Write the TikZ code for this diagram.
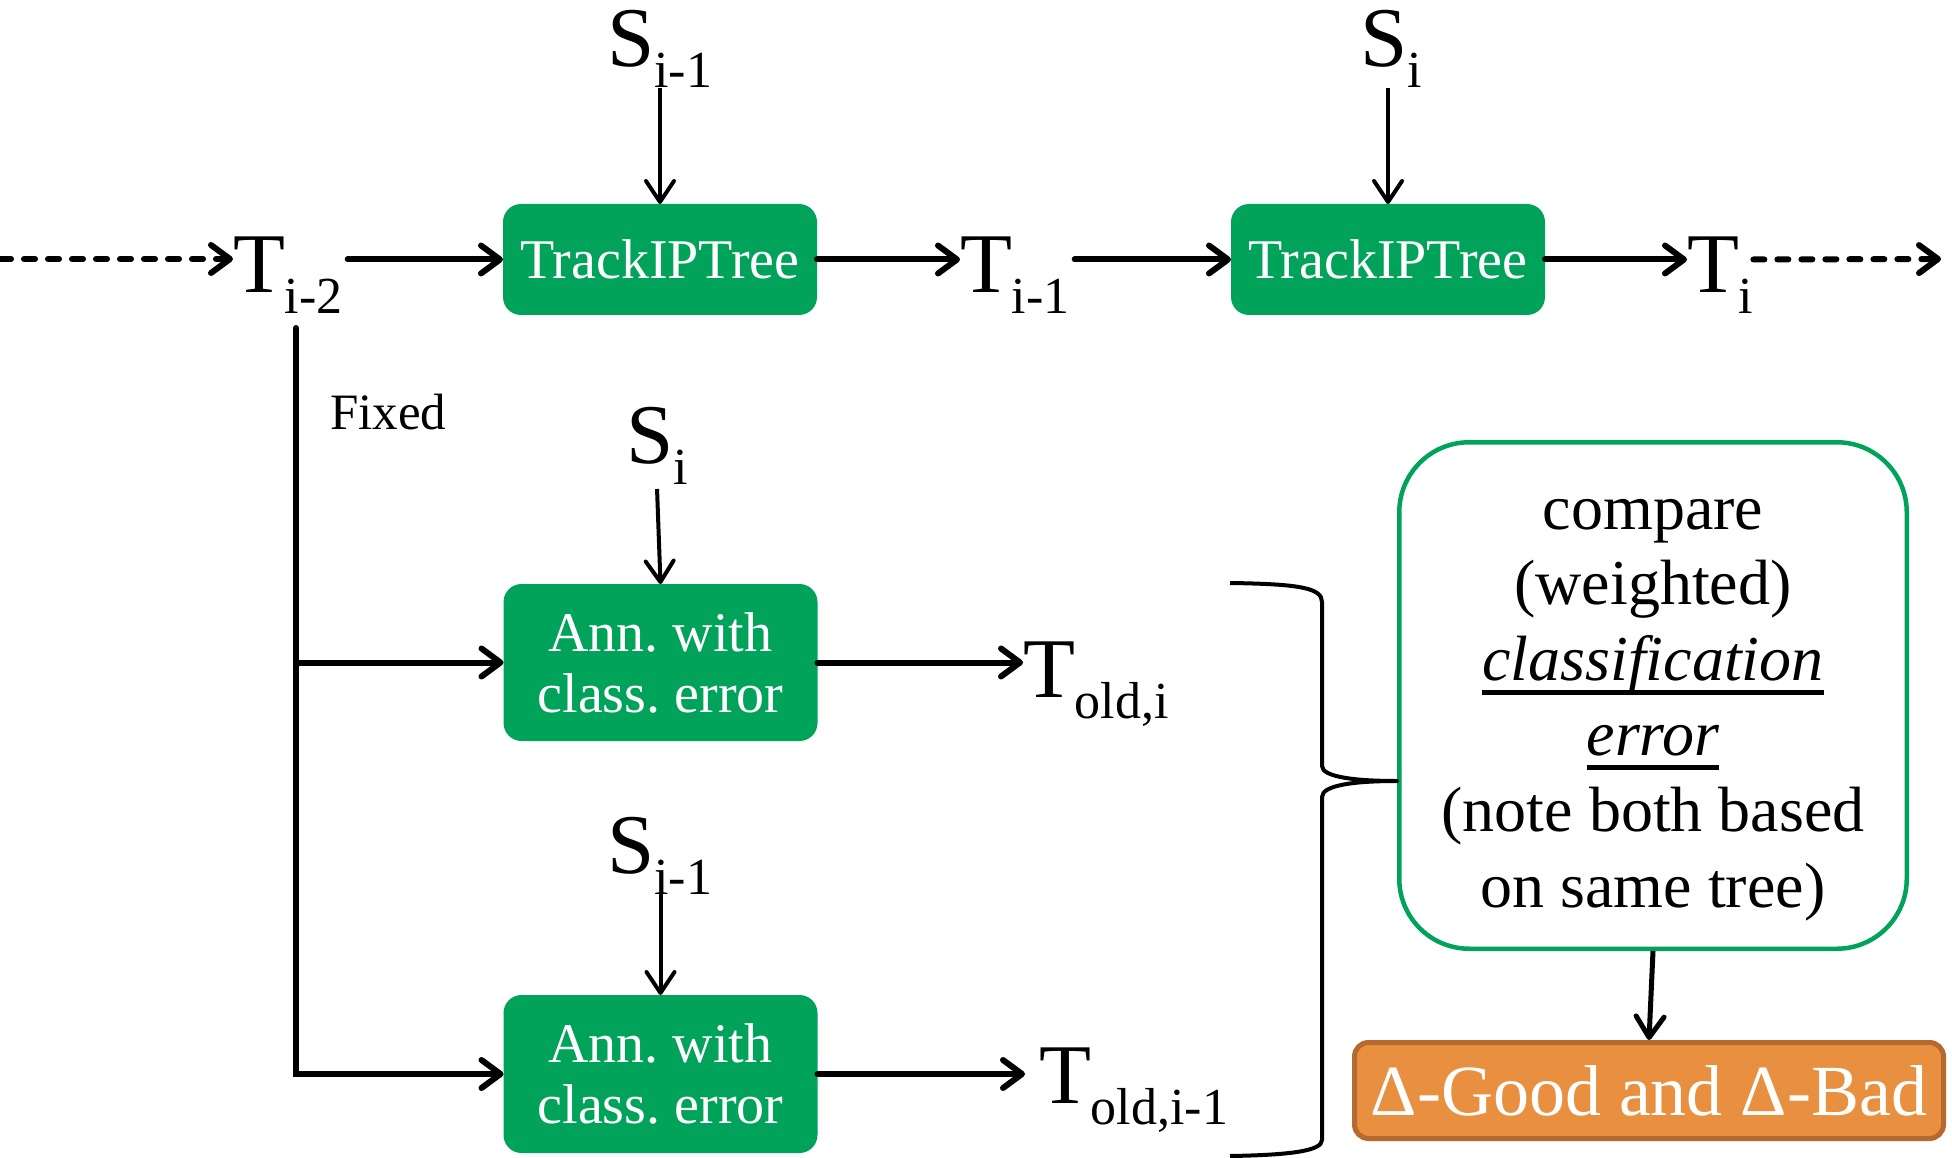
\documentclass[tikz,border=0pt]{standalone}
\usepackage{fontspec}
\setmainfont{Liberation Serif}
\usetikzlibrary{arrows.meta,calc}
\frenchspacing

\definecolor{boxgreen}{HTML}{00A359}
\definecolor{resorange}{HTML}{E8903F}
\definecolor{resedge}{HTML}{B5692E}

% big symbol with a lowered index
\newcommand\symsub[2]{{\fontsize{85}{90}\selectfont #1}\raisebox{-21pt}{\fontsize{52}{56}\selectfont #2}}
% thick underline set a little below the baseline
\newsavebox\ulbox
\newcommand\thickul[1]{\sbox\ulbox{#1}\rlap{\rule[-14.3pt]{\wd\ulbox}{4.7pt}}\usebox\ulbox}

\begin{document}
\begin{tikzpicture}[x=1pt,y=-1pt,
  proc/.style={rectangle, rounded corners=18pt, fill=boxgreen, text=white,
    inner sep=0pt, outer sep=0pt, minimum width=314pt, align=center,
    font=\fontsize{56}{61}\selectfont},
  sym/.style={inner sep=0pt, outer sep=0pt, anchor=base west},
  flow/.style={line width=6pt, line cap=round,
    -{Straight Barb[length=19pt,width=28pt,round]}},
  dashflow/.style={flow, dash pattern=on 11pt off 13pt},
  feed/.style={line width=4pt, -{Straight Barb[length=21pt,width=28pt,round]}}]
\useasboundingbox (0,0) rectangle (1952,1158);

% processing boxes
\node[proc, minimum height=111pt] (track1) at (660,259.5) {TrackIPTree};
\node[proc, minimum height=111pt] (track2) at (1388,259.5) {TrackIPTree};
\node[proc, minimum height=157pt] (ann1) at (660.5,662.5) {Ann. with\\class. error};
\node[proc, minimum height=158pt] (ann2) at (660.5,1074) {Ann. with\\class. error};

% trees and samples
\node[sym] (Tm2) at (233,293) {\symsub{T}{i-2}};
\node[sym] (Tm1) at (960,293) {\symsub{T}{i-1}};
\node[sym] (Ti) at (1687,293) {\symsub{T}{i}};
\node[sym] (Stop1) at (607,67) {\symsub{S}{i-1}};
\node[sym] (Stop2) at (1360,67) {\symsub{S}{i}};
\node[sym] (Smid) at (626,463) {\symsub{S}{i}};
\node[sym] (Slow) at (607,873) {\symsub{S}{i-1}};
\node[sym] (Told1) at (1023,697) {\symsub{T}{old,i}};
\node[sym] (Told2) at (1039,1103) {\symsub{T}{old,i-1}};
\node[sym, font=\fontsize{51}{54}\selectfont] (fixed) at (330,429) {Fixed};

% comparison box and result
\node[draw=boxgreen, line width=4.5pt, rounded corners=70pt, inner sep=0pt,
  minimum width=507.5pt, minimum height=506.5pt] (compare) at (1653,695.5) {};
\node[anchor=base, align=center, inner sep=0pt, font=\fontsize{64}{75.6}\selectfont]
  (cmptxt) at (1653,907)
  {compare\\(weighted)\\\thickul{\itshape classification}\\\thickul{\itshape error}\\(note both based\\on same tree)};
\node[fill=resorange, draw=resedge, line width=5pt, rounded corners=14pt, inner sep=0pt,
  minimum width=589pt, minimum height=96pt, text=white,
  font=\fontsize{72}{72}\selectfont] (delta) at (1649,1090.5) {Δ-Good and Δ-Bad};

% main chain
\coordinate (lstart) at (0,259);
\coordinate (rend) at (1941,259);
\draw[dashflow] (lstart) -- (lstart -| Tm2.west);
\draw[flow, shorten <=5pt] (Tm2.east |- track1.west) -- (track1.west);
\draw[flow] (track1.east) -- (track1.east -| Tm1.west);
\draw[flow, shorten <=5pt] (Tm1.east |- track2.west) -- (track2.west);
\draw[flow] (track2.east) -- (track2.east -| Ti.west);
\draw[dashflow] (Ti.east |- track2.east) -- (rend);

% sample inputs
\draw[feed] (Stop1.south -| track1.north) -- (track1.north);
\draw[feed] (Stop2.south -| track2.north) -- (track2.north);
\draw[feed, shorten <=5pt] (Smid.south) -- (ann1.north);
\draw[feed] (Slow.south -| ann2.north) -- (ann2.north);

% fixed tree branch
\coordinate (fixtop) at (296,328);
\draw[flow] (fixtop) |- (ann2.west);
\draw[flow] (fixtop |- ann1.west) -- (ann1.west);
\draw[flow] (ann1.east) -- (ann1.east -| Told1.west);
\draw[flow, shorten >=14pt] (ann2.east) -- (ann2.east -| Told2.west);

% brace gathering both results
\coordinate (bracetip) at ($(compare.west)+(0,85.5)$);
\draw[line width=4pt, line join=round]
  (1230,583) .. controls (1300,584) and (1322,588) .. (1322,602)
  -- (1322,766) .. controls (1322,777) and (1355,781) .. (bracetip)
  .. controls (1355,781) and (1322,785) .. (1322,797)
  -- (1322,1140) .. controls (1322,1151) and (1290,1155) .. (1230,1156);

\draw[line width=5pt, -{Straight Barb[length=21pt,width=28pt,round]}] (compare.south) -- (delta.north);
\end{tikzpicture}
\end{document}
